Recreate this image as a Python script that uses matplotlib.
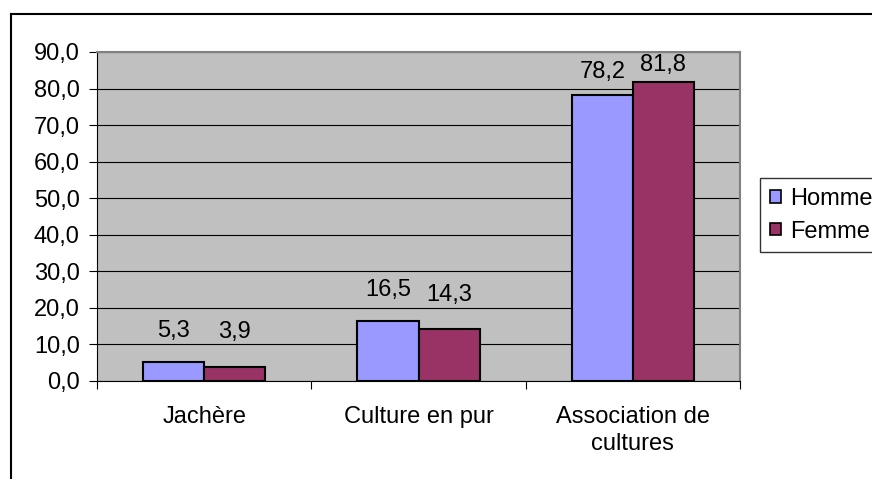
import matplotlib
matplotlib.use("Agg")
import matplotlib.pyplot as plt
from matplotlib.lines import Line2D
from matplotlib.patches import Patch
from matplotlib.ticker import FuncFormatter, FixedLocator
import numpy as np

categories = ["Jachère", "Culture en pur", "Association de\ncultures"]
homme = [5.3, 16.5, 78.2]
femme = [3.9, 14.3, 81.8]
series_names = ["Homme", "Femme"]
y_ticks = [0, 10, 20, 30, 40, 50, 60, 70, 80, 90]

# styling
col_h = "#9999FF"
col_f = "#993366"
fs = 17
label_offsets_h = [22, 22, 17]   # points above bar tops
label_offsets_f = [25, 24, 12]

plt.rcParams['font.family'] = ['Liberation Sans', 'DejaVu Sans']

W, H = 872, 479
fig = plt.figure(figsize=(W / 100, H / 100), dpi=100)
ax = fig.add_axes([97 / W, (H - 381) / H, 643 / W, 329 / H])
ax.set_facecolor("#C0C0C0")

x = np.arange(len(categories))
bw = 0.285
bh = ax.bar(x - bw / 2, homme, bw, color=col_h, edgecolor="black", linewidth=1.5, zorder=3)
bf = ax.bar(x + bw / 2, femme, bw, color=col_f, edgecolor="black", linewidth=1.5, zorder=3)

def fmt(v):
    return f"{v:.1f}".replace(".", ",")

for xi, v, off in zip(x - bw / 2, homme, label_offsets_h):
    ax.annotate(fmt(v), (xi, v), xytext=(0, off), textcoords="offset points",
                ha="center", va="center", fontsize=fs)
for xi, v, off in zip(x + bw / 2, femme, label_offsets_f):
    ax.annotate(fmt(v), (xi, v), xytext=(0, off), textcoords="offset points",
                ha="center", va="center", fontsize=fs)

ax.set_ylim(0, 90)
ax.set_xlim(-0.5, len(categories) - 0.5)
ax.set_yticks(y_ticks)
ax.yaxis.set_major_formatter(FuncFormatter(lambda v, p: fmt(v)))
ax.yaxis.grid(True, color="black", linewidth=0.8, zorder=1)
ax.set_axisbelow(True)
ax.tick_params(axis="y", direction="out", length=6, width=0.8, pad=6.5, labelsize=fs)

ax.set_xticks(x)
ax.set_xticklabels(categories, fontsize=fs, linespacing=1.3)
ax.xaxis.set_minor_locator(FixedLocator(np.arange(-0.5, len(categories), 1.0)))
ax.tick_params(axis="x", which="major", length=0, pad=18)
ax.tick_params(axis="x", which="minor", direction="out", length=5.5, width=0.8)

for s in ["top", "right"]:
    ax.spines[s].set_color("#808080")
    ax.spines[s].set_linewidth(1.5)
for s in ["left", "bottom"]:
    ax.spines[s].set_color("black")
    ax.spines[s].set_linewidth(0.8)

# outer chart frame
fig.add_artist(Line2D([10.5 / W, 10.5 / W], [0, 1 - 13.5 / H], transform=fig.transFigure,
                      color="black", linewidth=1.5))
fig.add_artist(Line2D([10.5 / W, 1.0], [1 - 13.5 / H, 1 - 13.5 / H], transform=fig.transFigure,
                      color="black", linewidth=1.5))

handles = [Patch(facecolor=col_h, edgecolor="black", linewidth=1.2),
           Patch(facecolor=col_f, edgecolor="black", linewidth=1.2)]
leg = fig.legend(handles, series_names, loc="upper left",
                 bbox_to_anchor=(760 / W, 1 - 178 / H), bbox_transform=fig.transFigure,
                 fontsize=fs, frameon=True, fancybox=False, edgecolor="black",
                 handlelength=0.45, handleheight=0.45, handletextpad=0.4,
                 borderpad=0.42, labelspacing=0.45, borderaxespad=0)
leg.get_frame().set_linewidth(1.0)

fig.savefig("out.png", dpi=100)
